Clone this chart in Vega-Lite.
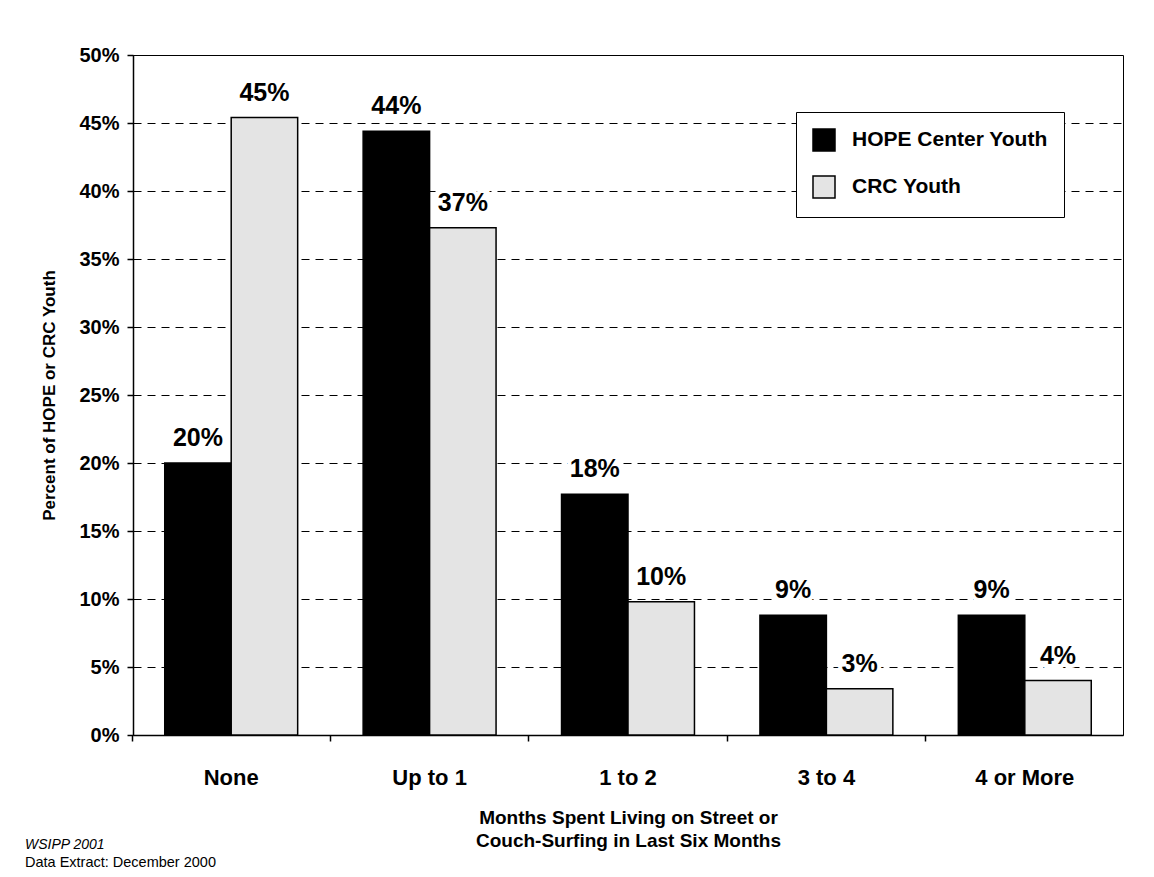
{
  "$schema": "https://vega.github.io/schema/vega-lite/v6.json",
  "width": 990,
  "height": 680,
  "autosize": "none",
  "padding": {"left": 133, "top": 55, "right": 31, "bottom": 142},
  "background": "white",
  "title": {
    "text": "WSIPP 2001",
    "subtitle": "Data Extract:  December 2000",
    "orient": "bottom",
    "anchor": "start",
    "frame": "bounds",
    "font": "Liberation Sans",
    "fontSize": 14,
    "fontStyle": "italic",
    "fontWeight": "normal",
    "color": "black",
    "subtitleFont": "Liberation Sans",
    "subtitleFontSize": 14.5,
    "subtitleFontStyle": "normal",
    "subtitleColor": "black",
    "subtitlePadding": 4,
    "dx": -16,
    "dy": -12,
    "offset": 0
  },
  "data": {
    "values": [
      {"months": "None", "group": "HOPE Center Youth", "pct": 0.200},
      {"months": "None", "group": "CRC Youth", "pct": 0.454},
      {"months": "Up to 1", "group": "HOPE Center Youth", "pct": 0.444},
      {"months": "Up to 1", "group": "CRC Youth", "pct": 0.373},
      {"months": "1 to 2", "group": "HOPE Center Youth", "pct": 0.177},
      {"months": "1 to 2", "group": "CRC Youth", "pct": 0.098},
      {"months": "3 to 4", "group": "HOPE Center Youth", "pct": 0.088},
      {"months": "3 to 4", "group": "CRC Youth", "pct": 0.034},
      {"months": "4 or More", "group": "HOPE Center Youth", "pct": 0.088},
      {"months": "4 or More", "group": "CRC Youth", "pct": 0.040}
    ]
  },
  "encoding": {
    "x": {
      "field": "months",
      "type": "nominal",
      "sort": ["None", "Up to 1", "1 to 2", "3 to 4", "4 or More"],
      "scale": {"paddingInner": 0.33, "paddingOuter": 0.16},
      "axis": {
        "labelAngle": 0,
        "labelFontSize": 22,
        "labelPadding": 26,
        "grid": false,
        "bandPosition": -0.246,
        "titleFontSize": 19,
        "titlePadding": 20,
        "titleLineHeight": 23
      },
      "title": ["Months Spent Living on Street or", "Couch-Surfing in Last Six Months"]
    },
    "xOffset": {
      "field": "group",
      "sort": ["HOPE Center Youth", "CRC Youth"],
      "scale": {"paddingInner": 0}
    },
    "y": {
      "field": "pct",
      "type": "quantitative",
      "scale": {"domain": [0, 0.5]},
      "axis": {
        "values": [0, 0.05, 0.1, 0.15, 0.2, 0.25, 0.3, 0.35, 0.4, 0.45, 0.5],
        "format": ".0%",
        "labelFontSize": 20,
        "labelPadding": 8,
        "grid": true,
        "gridColor": "black",
        "gridDash": [8, 6],
        "gridWidth": 1,
        "titleFontSize": 17,
        "titlePadding": 20
      },
      "title": "Percent of HOPE or CRC Youth"
    }
  },
  "layer": [
    {
      "mark": {"type": "bar", "stroke": "black", "strokeWidth": 1.5},
      "encoding": {
        "color": {
          "field": "group",
          "type": "nominal",
          "sort": ["HOPE Center Youth", "CRC Youth"],
          "scale": {"domain": ["HOPE Center Youth", "CRC Youth"], "range": ["#000000", "#e4e4e4"]},
          "legend": {
            "orient": "none",
            "legendX": 663,
            "legendY": 57,
            "title": null,
            "symbolType": "square",
            "symbolSize": 484,
            "symbolStrokeColor": "black",
            "symbolStrokeWidth": 1.5,
            "labelFont": "Liberation Sans",
            "labelFontSize": 21,
            "labelFontWeight": "bold",
            "labelColor": "black",
            "labelOffset": 16,
            "labelLimit": 400,
            "rowPadding": 19,
            "padding": 16,
            "strokeColor": "black",
            "fillColor": "white"
          }
        }
      }
    },
    {
      "mark": {"type": "text", "baseline": "bottom", "dy": -12, "fontSize": 25, "fontWeight": "bold", "font": "Liberation Sans", "stroke": "white", "strokeWidth": 8, "fill": "white"},
      "encoding": {"text": {"field": "pct", "format": ".0%"}}
    },
    {
      "mark": {"type": "text", "baseline": "bottom", "dy": -12, "fontSize": 25, "fontWeight": "bold", "font": "Liberation Sans", "color": "black"},
      "encoding": {"text": {"field": "pct", "format": ".0%"}}
    }
  ],
  "config": {
    "font": "Liberation Sans",
    "view": {"stroke": "black", "strokeWidth": 1},
    "axis": {
      "domainColor": "black",
      "domainWidth": 1.5,
      "tickColor": "black",
      "tickWidth": 1.5,
      "tickSize": 6,
      "labelColor": "black",
      "titleColor": "black",
      "labelFont": "Liberation Sans",
      "titleFont": "Liberation Sans",
      "labelFontWeight": "bold",
      "titleFontWeight": "bold"
    }
  }
}
